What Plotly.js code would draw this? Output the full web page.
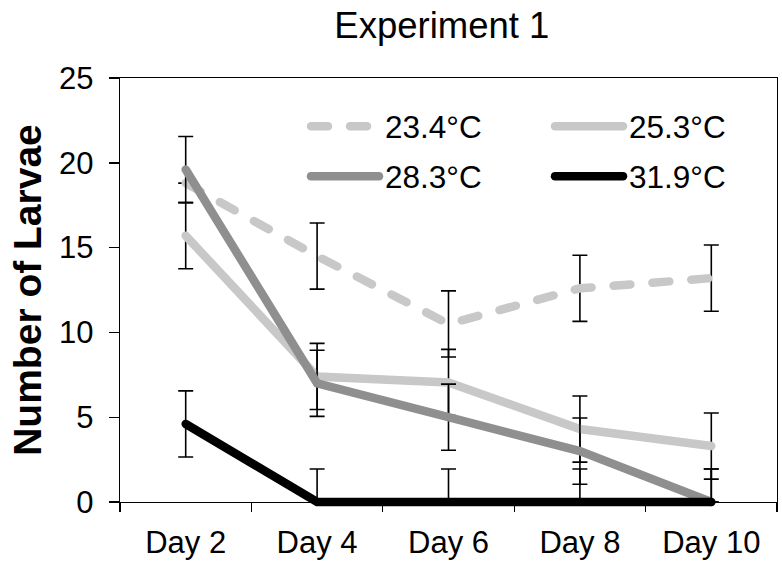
<!DOCTYPE html>
<html>
<head>
<meta charset="utf-8">
<script src="https://cdn.plot.ly/plotly-3.0.1.min.js"></script>
<style>
  html, body { margin: 0; padding: 0; background: #fff; }
  #chart { width: 782px; height: 571px; }
  path.js-line { stroke-linecap: round !important; }
  .cartesianlayer g, .cartesianlayer path { clip-path: none !important; }
  .legendlines path.js-line { d: path("M11,0h68"); }
</style>
</head>
<body>
<div id="chart"></div>
<script>
// Categories
const days = ['Day 2', 'Day 4', 'Day 6', 'Day 8', 'Day 10'];

// Series values (number of larvae)
const t234 = [18.8, 14.5, 10.5, 12.6, 13.2];
const t253 = [15.7, 7.4, 7.05, 4.3, 3.3];
const t283 = [19.6, 7.0, 5.0, 3.0, 0];
const t319 = [4.6, 0, 0, 0, 0];

// Error bar sizes (plus / minus)
const e234Plus  = [0, 1.95, 1.95, 1.95, 1.95];
const e234Minus = [0, 1.95, 1.95, 1.95, 1.95];
const e253Plus  = [1.95, 1.95, 1.95, 1.95, 1.95];
const e253Minus = [1.95, 1.95, 1.95, 1.95, 1.95];
const e283Plus  = [1.95, 1.95, 1.95, 1.95, 1.95];
const e283Minus = [1.95, 1.95, 1.95, 1.95, 0];
const e319Plus  = [1.95, 1.95, 1.95, 1.95, 1.95];
const e319Minus = [1.95, 0, 0, 0, 0];

// Series labels
const names = ['23.4°C', '25.3°C', '28.3°C', '31.9°C'];

const FONT = 'Liberation Sans, Arial, sans-serif';

function errBar(plus, minus) {
  return { type: 'data', symmetric: false, array: plus, arrayminus: minus,
           color: '#000', thickness: 1.6, width: 7.5 };
}

const traces = [
  { x: days, y: t234, name: names[0], mode: 'lines', legend: 'legend', legendgroup: 'a',
    line: { color: '#c8c8c8', width: 8.5, dash: '17px,22px' }, error_y: errBar(e234Plus, e234Minus) },
  { x: days, y: t253, name: names[1], mode: 'lines', legend: 'legend2', legendgroup: 'b',
    line: { color: '#c8c8c8', width: 8.5 }, error_y: errBar(e253Plus, e253Minus) },
  { x: days, y: t283, name: names[2], mode: 'lines', legend: 'legend', legendgroup: 'c',
    line: { color: '#8f8f8f', width: 8.5 }, error_y: errBar(e283Plus, e283Minus) },
  { x: days, y: t319, name: names[3], mode: 'lines', legend: 'legend2', legendgroup: 'd',
    line: { color: '#000000', width: 8.5 }, error_y: errBar(e319Plus, e319Minus) }
];

const legendCommon = {
  font: { family: FONT, size: 31.5, color: '#000' },
  bgcolor: 'rgba(0,0,0,0)', borderwidth: 0,
  xanchor: 'left', yanchor: 'top',
  itemwidth: 75,
  traceorder: 'grouped', tracegroupgap: 6
};

const layout = {
  width: 782, height: 571,
  margin: { l: 120, r: 5, t: 78, b: 69 },
  paper_bgcolor: '#fff', plot_bgcolor: '#fff',
  font: { family: FONT, color: '#000' },
  title: { text: 'Experiment 1', font: { family: FONT, size: 36.5, color: '#000' },
           x: 0.565, xref: 'container', xanchor: 'center',
           y: 0.955, yref: 'container', yanchor: 'middle' },
  xaxis: {
    type: 'category', range: [-0.5, 4.5],
    showgrid: false, zeroline: false,
    showline: true, linecolor: '#000', linewidth: 1.4, mirror: true,
    ticks: 'outside', tickson: 'boundaries', ticklen: 9, tickwidth: 1.4, tickcolor: '#000',
    ticklabelstandoff: 12,
    tickfont: { family: FONT, size: 31, color: '#000' }
  },
  yaxis: {
    range: [0, 25], dtick: 5, tick0: 0,
    showgrid: false, zeroline: false,
    showline: true, linecolor: '#000', linewidth: 1.4, mirror: true,
    ticks: 'outside', ticklen: 10, tickwidth: 1.4, tickcolor: '#000',
    ticklabelstandoff: 9,
    tickfont: { family: FONT, size: 31, color: '#000' },
    title: { text: 'Number of Larvae', standoff: 5,
             font: { family: FONT, size: 39, color: '#000', weight: 'bold' } }
  },
  legend: Object.assign({ x: 0.274, y: 0.95 }, legendCommon),
  legend2: Object.assign({ x: 0.6454, y: 0.95 }, legendCommon),
  showlegend: true
};

Plotly.newPlot('chart', traces, layout, { displayModeBar: false, staticPlot: true });
</script>
</body>
</html>
